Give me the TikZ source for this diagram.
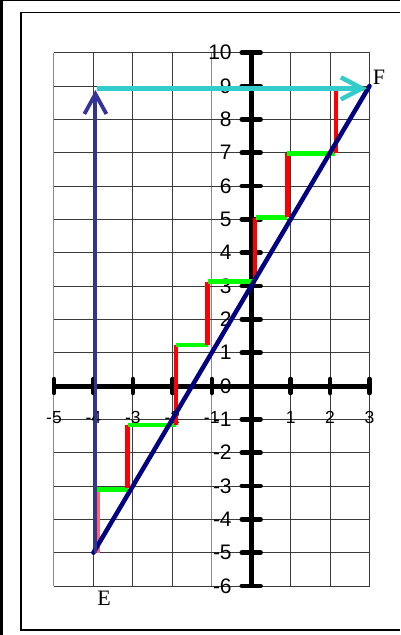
\documentclass[tikz,border=0pt]{standalone}
\usepackage{fontspec}
\setmainfont{Liberation Sans}
\newfontfamily\serifletters{Liberation Serif}
\usetikzlibrary{arrows.meta}
\definecolor{navyline}{HTML}{000080}
\definecolor{bluearrow}{HTML}{333399}
\definecolor{cyanarrow}{HTML}{33CCCC}
\definecolor{stepgreen}{HTML}{00FF00}
\definecolor{stepred}{HTML}{FF0000}
\definecolor{gridgray}{HTML}{3A3A3A}
\definecolor{gridlight}{HTML}{8A8A8A}
\begin{document}
\begin{tikzpicture}[x=1bp,y=-1bp,
  gridline/.style={draw=gridgray,line width=0.9bp},
  lightgridline/.style={draw=gridlight,line width=1bp},
  axisline/.style={draw=black,line width=5bp},
  tickline/.style={draw=black,line width=4.5bp,line cap=round},
  ylab/.style={anchor=east,inner sep=0pt,font=\fontsize{21bp}{21bp}\selectfont},
  xlab/.style={anchor=center,inner sep=0pt,font=\fontsize{17.5bp}{17.5bp}\selectfont},
  redseg/.style={draw=stepred,line width=4.5bp},
  paleredseg/.style={draw=stepred!60,line width=4.5bp},
  greenseg/.style={draw=stepgreen,line width=4.5bp},
  pointlab/.style={inner sep=0pt,font=\serifletters\fontsize{22bp}{22bp}\selectfont},
  framestroke/.style={draw=black,line width=1.2bp},
]
\useasboundingbox (0,0) rectangle (400,635);
\fill[white] (0,0) rectangle (400,635);
% outer frame
\fill[black] (0,0) rectangle (3,635);
\draw[framestroke,line width=1bp] (0,0.5) -- (400,0.5);
\draw[framestroke] (400,12.5) -- (21,12.5) -- (21,630) -- (400,630);

\begin{scope}[shift={(251.2,386)},x=39.44bp,y=33.33bp]
  % grid
  \foreach \i in {-4,-3,-2,0,1,2,3} \draw[gridline] (\i,-6) -- (\i,10);
  \foreach \i in {-5,-1} \draw[lightgridline] (\i,-6) -- (\i,10);
  \foreach \j in {-6,...,10} \draw[gridline] (-5,\j) -- (3,\j);
  % axes
  \draw[axisline] (0,-6) -- (0,10);
  \draw[axisline] (-5,0) -- (3,0);
  \foreach \j in {-6,...,10} {
    \draw[tickline] (-0.24,\j) -- (0.24,\j);
    \node[ylab] (yl\j) at (-0.49,\j) {\j};
  }
  \foreach \i in {-5,-4,-3,-2,-1,1,2,3} {
    \draw[tickline] (\i,-0.21) -- (\i,0.21);
    \node[xlab] (xl\i) at (\i,-0.945) {\i};
  }
  % key points
  \coordinate (E) at (-4,-5);
  \coordinate (F) at (3,9);
  % staircase corners
  \coordinate (r1a) at (-3.90,-5.00); \coordinate (r1b) at (-3.90,-3.08);
  \coordinate (g1a) at (-3.90,-3.10); \coordinate (g1b) at (-3.12,-3.10);
  \coordinate (r2a) at (-3.14,-3.07); \coordinate (r2b) at (-3.14,-1.18);
  \coordinate (g2a) at (-3.12,-1.17); \coordinate (g2b) at (-1.91,-1.17);
  \coordinate (r3a) at (-1.91,-1.17); \coordinate (r3b) at (-1.91,1.23);
  \coordinate (g3a) at (-1.91,1.23);  \coordinate (g3b) at (-1.09,1.23);
  \coordinate (r4a) at (-1.11,1.23);  \coordinate (r4b) at (-1.11,3.13);
  \coordinate (g4a) at (-1.09,3.14);  \coordinate (g4b) at (0.12,3.14);
  \coordinate (r5a) at (0.10,3.15);   \coordinate (r5b) at (0.10,5.03);
  \coordinate (g5a) at (0.12,5.06);   \coordinate (g5b) at (0.92,5.06);
  \coordinate (r6a) at (0.92,5.06);   \coordinate (r6b) at (0.92,6.98);
  \coordinate (g6a) at (0.92,6.98);   \coordinate (g6b) at (2.12,6.98);
  \coordinate (r7a) at (2.15,6.99);   \coordinate (r7b) at (2.15,8.90);
  \coordinate (g7a) at (2.12,8.91);   \coordinate (g7b) at (2.93,8.91);
  \draw[paleredseg] (r1a) -- (r1b);
  \draw[greenseg] (g1a) -- (g1b);
  \draw[redseg] (r2a) -- (r2b);
  \draw[greenseg] (g2a) -- (g2b);
  \draw[redseg] (r3a) -- (r3b);
  \draw[greenseg] (g3a) -- (g3b);
  \draw[redseg] (r4a) -- (r4b);
  \draw[greenseg] (g4a) -- (g4b);
  \draw[redseg] (r5a) -- (r5b);
  \draw[greenseg] (g5a) -- (g5b);
  \draw[redseg] (r6a) -- (r6b);
  \draw[greenseg] (g6a) -- (g6b);
  \draw[redseg] (r7a) -- (r7b);
  \draw[greenseg] (g7a) -- (g7b);
  % main line
  \draw[draw=navyline,line width=4.5bp,line cap=round] (E) -- (F);
  % arrows
  \coordinate (B0) at (-3.95,-5);
  \coordinate (B1) at (-3.95,8.88);
  \draw[draw=bluearrow,line width=3.8bp,-{Straight Barb[length=20bp,width=22bp]}] (B0) -- (B1);
  \coordinate (C0) at (-3.90,8.93);
  \coordinate (C1) at (2.93,8.93);
  \draw[draw=cyanarrow,line width=4.5bp,-{Straight Barb[length=21bp,width=22bp]}] (C0) -- (C1);
  % point labels
  \node[pointlab] (labE) at (-3.732,-6.36) {E};
  \node[pointlab] (labF) at (3.24,9.27) {F};
\end{scope}
\end{tikzpicture}
\end{document}
